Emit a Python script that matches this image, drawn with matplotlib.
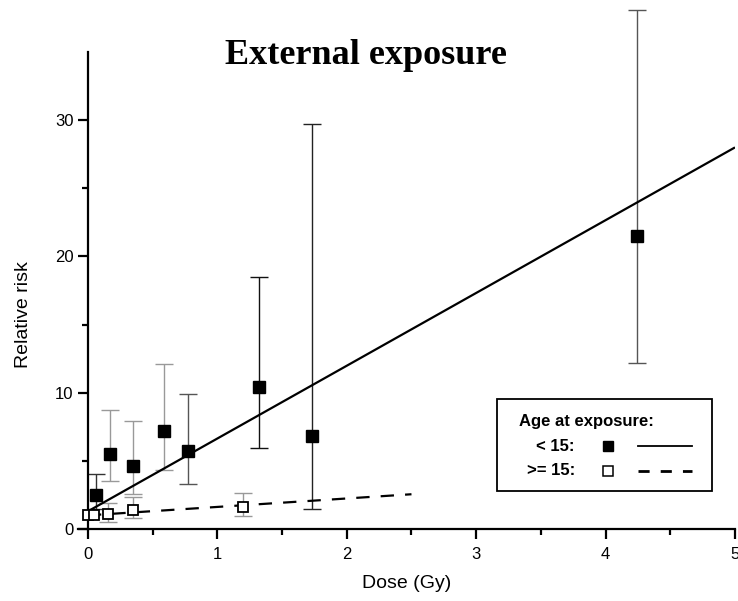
import matplotlib
matplotlib.use('Agg')
import matplotlib.pyplot as plt
import numpy as np
from matplotlib.patches import Rectangle
from matplotlib.lines import Line2D

# age at exposure < 15
dose_lt15 = [0.06, 0.17, 0.35, 0.59, 0.77, 1.32, 1.73, 4.24]
rr_lt15 = [2.5, 5.5, 4.6, 7.2, 5.7, 10.4, 6.8, 21.5]
lo_lt15 = [1.5, 3.5, 2.6, 4.3, 3.3, 5.95, 1.5, 12.2]
hi_lt15 = [4.0, 8.7, 7.9, 12.1, 9.9, 18.5, 29.7, 38.1]

# age at exposure >= 15
dose_ge15 = [0.0, 0.05, 0.155, 0.35, 1.20]
rr_ge15 = [1.0, 1.0, 1.1, 1.4, 1.6]
lo_ge15 = [1.0, 1.0, 0.5, 0.8, 0.96]
hi_ge15 = [1.0, 1.0, 1.9, 2.35, 2.65]

# fitted linear models
fit_x_lt15 = [0.0, 5.0]
fit_y_lt15 = [1.3, 28.0]
fit_x_ge15 = [0.0, 2.5]
fit_y_ge15 = [1.0, 2.55]

bar_grey = ['#333333', '#999999', '#999999', '#999999', '#555555', '#111111', '#222222', '#555555']

fig = plt.figure(figsize=(7.38, 6.01), dpi=100)
ax = fig.add_axes([77.6/738, 72/601, 657.4/738, 477/601])

for x, y, lo, hi, c in zip(dose_lt15, rr_lt15, lo_lt15, hi_lt15, bar_grey):
    eb = ax.errorbar([x], [y], yerr=[[y - lo], [hi - y]], fmt='none', ecolor=c,
                     elinewidth=1, capsize=6.5, capthick=1)
    for art in eb.lines[1] + eb.lines[2]:
        art.set_clip_on(False)

for x, y, lo, hi in zip(dose_ge15, rr_ge15, lo_ge15, hi_ge15):
    if hi > lo:
        ax.errorbar([x], [y], yerr=[[y - lo], [hi - y]], fmt='none', ecolor='#999999',
                    elinewidth=1, capsize=6.5, capthick=1)

ax.plot(fit_x_lt15, fit_y_lt15, c='k', lw=1.6, solid_capstyle='butt')
ax.plot(fit_x_ge15, fit_y_ge15, c='k', lw=1.6, dashes=(6, 5))

ax.plot(dose_lt15, rr_lt15, 's', ms=8.8, c='k', zorder=5)
ax.plot(dose_ge15, rr_ge15, 's', ms=7.5, mfc='white', mec='k', mew=1.3, zorder=5)

ax.set_xlim(-0.08, 5)
ax.set_ylim(0, 35)
ax.spines['top'].set_visible(False)
ax.spines['right'].set_visible(False)
ax.spines['left'].set_position(('data', 0))
ax.spines['left'].set_linewidth(1.6)
ax.spines['bottom'].set_linewidth(1.6)

ax.set_xticks([0, 1, 2, 3, 4, 5])
ax.set_xticks(np.arange(0.5, 5, 1), minor=True)
ax.set_yticks([0, 10, 20, 30])
ax.set_yticks([5, 15, 25], minor=True)
ax.tick_params(which='major', length=7, width=1.6, labelsize=12, direction='out')
ax.tick_params(which='minor', length=4, width=1.6, direction='out')
ax.tick_params(axis='x', pad=6)
for lab in ax.get_xticklabels() + ax.get_yticklabels():
    lab.set_family('Liberation Sans')

ax.set_xlabel('Dose (Gy)', fontsize=14, family='Liberation Sans', labelpad=9)
ax.set_ylabel('Relative risk', fontsize=14, family='Liberation Sans')
ax.yaxis.set_label_coords(-0.07, 0.45)

fig.text(366/738, 1 - 55/601, 'External exposure', ha='center', va='center',
         fontsize=26, fontweight='bold', family='Liberation Serif')

# legend box drawn by hand
tr = ax.transAxes
ax.add_patch(Rectangle((0.638, 0.0797), 0.327, 0.1928, transform=tr, fill=False,
                       ec='k', lw=1.3, zorder=6))
ax.text(0.671, 0.2264, 'Age at exposure:', transform=tr, ha='left', va='center',
        fontsize=12, fontweight='bold', family='Liberation Sans', zorder=7)
ax.text(0.7566, 0.174, '< 15:', transform=tr, ha='right', va='center',
        fontsize=12, fontweight='bold', family='Liberation Sans', zorder=7)
ax.text(0.7566, 0.1216, '>= 15:', transform=tr, ha='right', va='center',
        fontsize=12, fontweight='bold', family='Liberation Sans', zorder=7)
ax.add_line(Line2D([0.807], [0.174], transform=tr, marker='s', ms=7, c='k', ls='none'))
ax.add_line(Line2D([0.807], [0.1216], transform=tr, marker='s', ms=6.5, mfc='white',
                   mec='k', mew=1.1, ls='none'))
ax.add_line(Line2D([0.8526, 0.9347], [0.174, 0.174], transform=tr, c='k', lw=1.3))
ax.add_line(Line2D([0.8526, 0.9347], [0.1216, 0.1216], transform=tr, c='k', lw=2,
                   dashes=(4, 4)))

fig.savefig('out.png', dpi=100)
